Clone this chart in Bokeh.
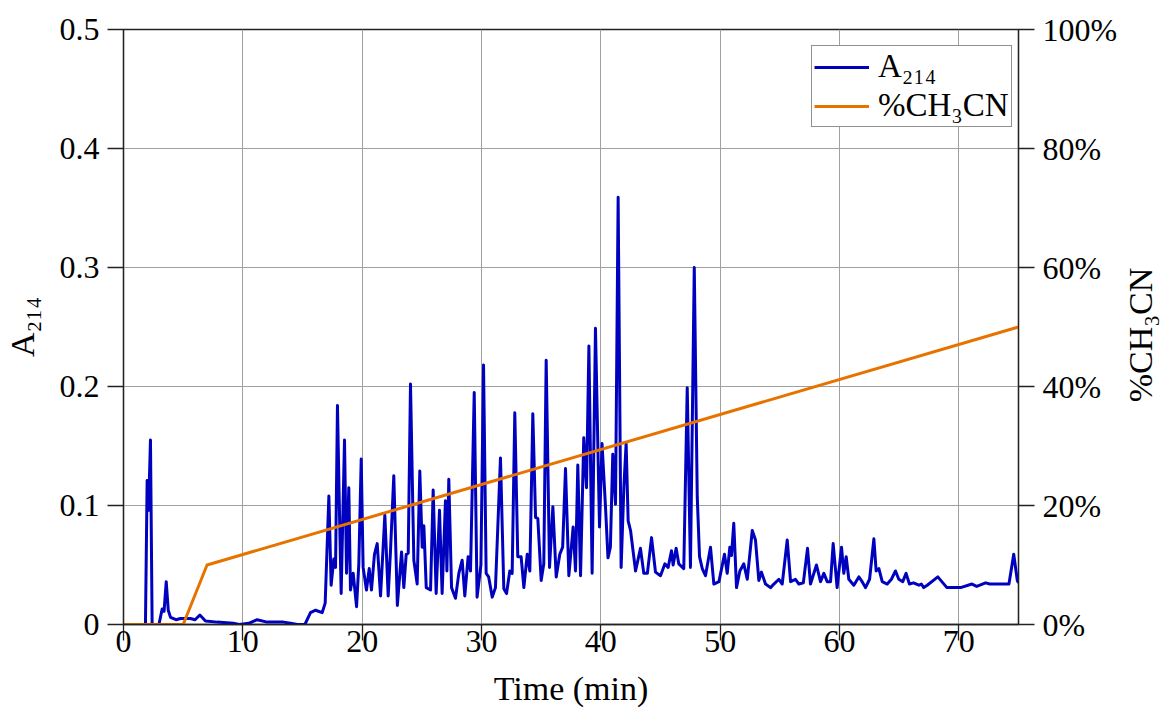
import math
from bokeh.plotting import figure
from bokeh.models import (Range1d, LinearAxis, FixedTicker, PrintfTickFormatter,
                          CustomJSTickFormatter, Label)
from bokeh.embed import file_html
from bokeh.resources import INLINE

# ---- data ----
time_min = [0, 1.8, 1.84, 1.98, 2.1, 2.26, 2.4, 2.97, 3.24, 3.4, 3.58, 3.75, 3.94, 4.4, 4.78,
            5.6, 6.0, 6.4, 6.87, 7.85, 9.2, 9.7, 10.5, 11.2, 12.04, 13.4, 14.0, 14.56, 15.2,
            15.67, 16.1, 16.65, 16.9, 17.21, 17.4, 17.62, 17.77, 17.93, 18.1, 18.24, 18.52,
            18.69, 18.88, 19.02, 19.25, 19.53, 19.72, 19.92, 20.08, 20.36, 20.59, 20.78, 21.03,
            21.26, 21.54, 21.9, 22.18, 22.37, 22.65, 22.95, 23.3, 23.49, 23.69, 23.86, 24.05,
            24.33, 24.61, 24.83, 25.03, 25.17, 25.37, 25.73, 25.95, 26.2, 26.48, 26.7, 26.98,
            27.1, 27.26, 27.49, 27.82, 28.1, 28.38, 28.6, 28.88, 29.08, 29.39, 29.63, 29.95,
            30.17, 30.39, 30.6, 30.9, 31.17, 31.59, 31.87, 32.1, 32.37, 32.57, 32.79, 33.04,
            33.32, 33.55, 33.83, 34.05, 34.3, 34.53, 34.72, 35.0, 35.22, 35.42, 35.7, 35.98,
            36.26, 36.56, 36.8, 37.04, 37.32, 37.68, 37.88, 38.07, 38.3, 38.57, 38.8, 39.0,
            39.27, 39.55, 39.89, 40.1, 40.39, 40.6, 40.8, 41.0, 41.23, 41.45, 41.7, 41.93,
            42.12, 42.29, 42.49, 42.91, 43.32, 43.6, 43.9, 44.25, 44.58, 45.0, 45.37, 45.64,
            45.92, 46.06, 46.31, 46.53, 46.95, 47.24, 47.51, 47.83, 48.08, 48.27, 48.5, 48.77,
            49.19, 49.47, 49.9, 50.36, 50.59, 50.81, 50.95, 51.14, 51.37, 51.65, 51.98, 52.27,
            52.69, 52.96, 53.24, 53.46, 53.8, 54.22, 54.5, 54.92, 55.2, 55.62, 55.9, 56.31,
            56.6, 56.97, 57.32, 57.57, 58.07, 58.41, 58.69, 58.97, 59.25, 59.47, 59.8, 60.17,
            60.36, 60.56, 60.78, 61.2, 61.62, 61.9, 62.18, 62.52, 62.88, 63.07, 63.3, 63.58,
            64.0, 64.35, 64.69, 64.97, 65.3, 65.58, 65.86, 66.2, 66.65, 66.86, 67.06, 67.35,
            68.24, 69.0, 70.15, 71.1, 71.5, 72.24, 72.6, 73.5, 74.2, 74.6, 74.9, 75.0]

a214 = [0, 0, 0.0, 0.121, 0.096, 0.155, 0, 0, 0.013, 0.011, 0.036, 0.012, 0.006, 0.004, 0.005,
        0.005, 0.004, 0.008, 0.003, 0.002, 0.001, 0.0, 0.001, 0.004, 0.002, 0.002, 0.001, 0.0, 0.0,
        0.010, 0.012, 0.010, 0.018, 0.108, 0.033, 0.055, 0.048, 0.184, 0.093, 0.026, 0.155,
        0.043, 0.115, 0.029, 0.043, 0.015, 0.051, 0.139, 0.048, 0.029, 0.047, 0.029, 0.059,
        0.068, 0.024, 0.092, 0.024, 0.061, 0.125, 0.016, 0.061, 0.031, 0.059, 0.060, 0.202,
        0.054, 0.034, 0.129, 0.065, 0.083, 0.031, 0.029, 0.113, 0.026, 0.096, 0.026, 0.104,
        0.045, 0.122, 0.031, 0.022, 0.043, 0.054, 0.024, 0.057, 0.045, 0.195, 0.023, 0.050,
        0.218, 0.043, 0.040, 0.023, 0.031, 0.140, 0.030, 0.026, 0.045, 0.043, 0.178, 0.057,
        0.057, 0.031, 0.059, 0.045, 0.177, 0.090, 0.089, 0.037, 0.051, 0.222, 0.048, 0.099,
        0.040, 0.059, 0.065, 0.131, 0.041, 0.082, 0.045, 0.134, 0.041, 0.157, 0.115, 0.234,
        0.043, 0.249, 0.082, 0.152, 0.099, 0.056, 0.065, 0.143, 0.101, 0.359, 0.048, 0.115,
        0.152, 0.087, 0.079, 0.045, 0.064, 0.043, 0.043, 0.073, 0.044, 0.041, 0.051, 0.048,
        0.062, 0.050, 0.064, 0.051, 0.047, 0.199, 0.048, 0.300, 0.107, 0.057, 0.047, 0.041,
        0.065, 0.034, 0.036, 0.059, 0.043, 0.065, 0.058, 0.085, 0.031, 0.045, 0.051, 0.038,
        0.079, 0.071, 0.037, 0.044, 0.034, 0.031, 0.034, 0.038, 0.034, 0.071, 0.036, 0.038,
        0.034, 0.035, 0.064, 0.034, 0.050, 0.036, 0.043, 0.036, 0.036, 0.068, 0.031, 0.065,
        0.043, 0.057, 0.038, 0.033, 0.040, 0.036, 0.031, 0.038, 0.072, 0.045, 0.047, 0.036,
        0.034, 0.038, 0.045, 0.038, 0.036, 0.043, 0.034, 0.035, 0.033, 0.034, 0.031, 0.033,
        0.040, 0.031, 0.031, 0.034, 0.032, 0.035, 0.034, 0.034, 0.034, 0.059, 0.037, 0.035]

grad_time = [0, 5, 7, 75]
grad_pct = [0, 0, 10, 50]

x_ticks = [0, 10, 20, 30, 40, 50, 60, 70]
y_ticks = [0, 0.1, 0.2, 0.3, 0.4, 0.5]
pct_ticks = [0, 20, 40, 60, 80, 100]

FONT = "Liberation Serif"
FS = "32px"

p = figure(width=1160, height=709, output_backend="svg", toolbar_location=None,
           x_range=Range1d(0, 75), y_range=Range1d(0, 0.5),
           min_border_left=123, min_border_right=142, min_border_top=29, min_border_bottom=85,
           background_fill_color="white", border_fill_color="white")
p.extra_y_ranges = {"pct": Range1d(0, 100)}

p.outline_line_color = "#222222"
p.outline_line_width = 1.3

p.line(time_min, a214, line_color="#0000bf", line_width=3, line_join="round",
       legend_label="A₂₁₄")
p.line(grad_time, grad_pct, y_range_name="pct", line_color="#e67300", line_width=3,
       line_join="round", legend_label="%CH₃CN")

p.xaxis.ticker = FixedTicker(ticks=x_ticks)
p.yaxis.ticker = FixedTicker(ticks=y_ticks)
p.yaxis.formatter = CustomJSTickFormatter(code="return tick == 0 ? '0' : tick.toFixed(1);")
p.xaxis.axis_label = "Time (min)"
p.yaxis.axis_label = "A₂₁₄"

right = LinearAxis(y_range_name="pct", ticker=FixedTicker(ticks=pct_ticks),
                   formatter=PrintfTickFormatter(format="%d%%"))
p.add_layout(right, "right")

for ax in p.axis:
    ax.axis_line_color = "#222222"
    ax.axis_line_width = 1.3
    ax.major_tick_line_color = "#222222"
    ax.major_tick_line_width = 1.3
    ax.major_tick_in = 0
    ax.major_tick_out = 16
    ax.minor_tick_line_color = None
    ax.major_label_text_font = FONT
    ax.major_label_text_font_size = FS
    ax.major_label_text_color = "black"
    ax.major_label_standoff = 8
    ax.axis_label_text_font = FONT
    ax.axis_label_text_font_size = "34px"
    ax.axis_label_text_font_style = "normal"
    ax.axis_label_text_color = "black"

p.xaxis.major_label_standoff = -10
p.xaxis.axis_label_standoff = 15
p.yaxis.axis_label_standoff = 16

# right-hand axis title, reading bottom to top, placed in the right side panel
p.add_layout(Label(x=75, y=0.25, x_offset=122, y_offset=-8, text="%CH₃CN",
                   angle=math.pi / 2, text_align="center", text_baseline="middle",
                   text_font=FONT, text_font_size="34px", text_color="black"), "right")

p.xgrid.ticker = FixedTicker(ticks=x_ticks)
p.ygrid.ticker = FixedTicker(ticks=y_ticks)
for g in (p.xgrid, p.ygrid):
    g.grid_line_color = "#a0a0a0"
    g.grid_line_width = 1

lg = p.legend[0]
lg.location = (688, 497)
lg.border_line_color = "#222222"
lg.border_line_width = 1.3
lg.background_fill_color = "white"
lg.background_fill_alpha = 1
lg.label_text_font = FONT
lg.label_text_font_size = "33px"
lg.label_text_color = "black"
lg.glyph_width = 55
lg.glyph_height = 36
lg.label_height = 36
lg.label_standoff = 9
lg.spacing = 2
lg.padding = 2
lg.margin = 0

open("out.html", "w").write(file_html(p, INLINE))
